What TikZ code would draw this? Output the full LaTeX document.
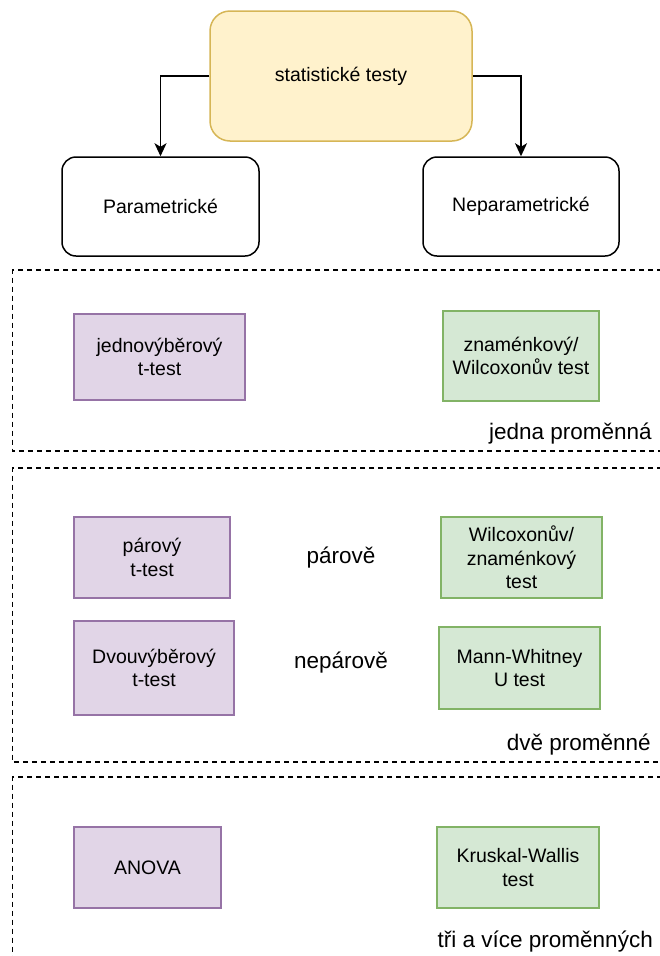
\documentclass[tikz,border=0pt]{standalone}
\usepackage{fontspec}
\setmainfont{Liberation Sans}
\usetikzlibrary{arrows.meta}
\definecolor{yfill}{HTML}{FFF2CC}
\definecolor{ydraw}{HTML}{D6B656}
\definecolor{pfill}{HTML}{E1D5E7}
\definecolor{pdraw}{HTML}{9673A6}
\definecolor{gfill}{HTML}{D5E8D4}
\definecolor{gdraw}{HTML}{82B366}
\tikzset{
  lbl/.style={font=\fontsize{19.5}{23.5}\selectfont, align=center, inner sep=0pt},
  topbox/.style={lbl, draw=ydraw, fill=yfill, line width=1.5pt, rounded corners=20pt},
  catbox/.style={lbl, draw=black, fill=white, line width=1.5pt, rounded corners=14pt},
  pbox/.style={lbl, draw=pdraw, fill=pfill, line width=1.5pt},
  gbox/.style={lbl, draw=gdraw, fill=gfill, line width=1.5pt},
  grp/.style={draw=black, line width=1.2pt, dash pattern=on 5pt off 4pt},
  arr/.style={draw=black, line width=1.6pt, -{Stealth[length=13pt,width=12pt,inset=3.5pt]}},
  big/.style={font=\fontsize{22.5}{26}\selectfont, inner sep=0pt},
}
\begin{document}
\begin{tikzpicture}[x=1pt,y=-1pt]
\useasboundingbox (0,0) rectangle (659,956);
% groups
\draw[grp] (680,270) -- (12.5,270) -- (12.5,451) -- (680,451);
\draw[grp] (680,468) -- (12.5,468) -- (12.5,762) -- (680,762);
\draw[grp] (680,777) -- (12.5,777) -- (12.5,990);
% top
\node[topbox, minimum width=262pt, minimum height=130pt] (top) at (341,76) {statistické testy};
\node[catbox, minimum width=197pt, minimum height=99pt] (par) at (160.5,206.5) {Parametrické};
\node[catbox, minimum width=196pt, minimum height=99pt] (nepar) at (521,206.5) {Neparametrické};
\draw[arr] (top.west) -| (par.north);
\draw[arr] (top.east) -| (nepar.north);
% jedna
\node[pbox, minimum width=171pt, minimum height=86pt] (jedno) at (159.5,357) {jednovýběrový\\t-test};
\node[gbox, minimum width=156pt, minimum height=90pt] (znam) at (521,356) {znaménkový/\\Wilcoxonův test};
\node[big, anchor=east] (l1) at (652,434) {jedna proměnná};
% dve
\node[pbox, minimum width=156pt, minimum height=81pt] (parovy) at (152,557.5) {párový\\t-test};
\node[gbox, minimum width=161pt, minimum height=81pt] (wilc) at (521.5,557.5) {Wilcoxonův/\\znaménkový\\test};
\node[pbox, minimum width=160pt, minimum height=94pt] (dvou) at (154,668) {Dvouvýběrový\\t-test};
\node[gbox, minimum width=161pt, minimum height=82pt] (mann) at (519.5,668) {Mann-Whitney\\U test};
\node[big] (parove) at (341,558) {párově};
\node[big] (neparove) at (341,663) {nepárově};
\node[big, anchor=east] (l2) at (651,745) {dvě proměnné};
% tri
\node[pbox, minimum width=147pt, minimum height=81pt] (anova) at (147.5,867.5) {ANOVA};
\node[gbox, minimum width=162pt, minimum height=81pt] (krus) at (518,867.5) {Kruskal-Wallis\\test};
\node[big, anchor=east] (l3) at (653,942) {tři a více proměnných};
\end{tikzpicture}
\end{document}
